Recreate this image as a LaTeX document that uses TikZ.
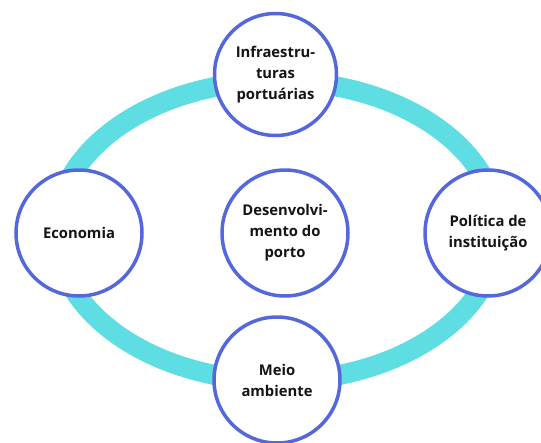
\documentclass[tikz,border=0pt]{standalone}
\usepackage{fontspec}
\setmainfont{Open Sans}
\definecolor{ringcyan}{RGB}{94,221,226}
\definecolor{rimblue}{RGB}{84,104,220}
\tikzset{
  topic/.style={circle, draw=rimblue, fill=white, line width=3.5pt,
    minimum size=126pt, inner sep=0pt, align=center,
    font=\fontsize{14.8}{21}\selectfont\bfseries, text=black!92}
}
\begin{document}
\begin{tikzpicture}[x=1pt, y=-1pt]
  \useasboundingbox (0,0) rectangle (541,442);
  % connecting ring behind the circles
  \draw[ringcyan, line width=20pt] (277,231) ellipse [x radius=221pt, y radius=150pt];
  % topics
  \node[topic, minimum size=122pt] (infra) at (275.5,74.5) {Infraestru-\\turas\\portuárias};
  \node[topic] (eco) at (79,233) {Economia};
  \node[topic] (dev) at (285,233) {Desenvolvi-\\mento do\\porto};
  \node[topic] (pol) at (488,233) {Política de\\instituição};
  \node[topic] (env) at (277,380) {Meio\\ambiente};
\end{tikzpicture}
\end{document}
